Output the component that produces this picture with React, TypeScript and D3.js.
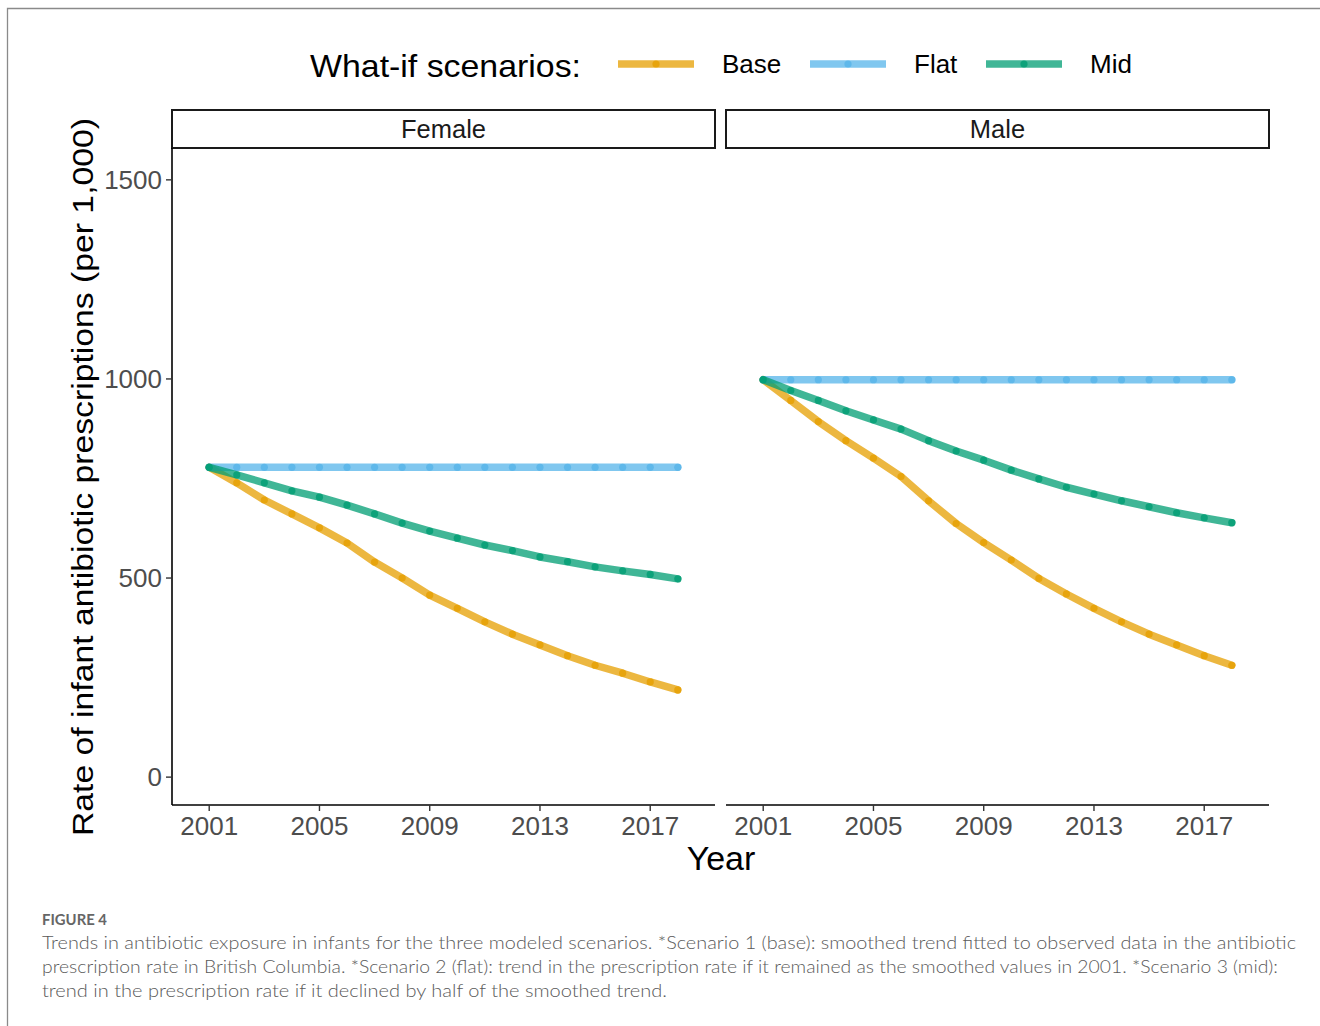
import React from "react";
import * as d3 from "d3";

// years shown on the x axis, 2001..2018
const years = [2001, 2002, 2003, 2004, 2005, 2006, 2007, 2008, 2009, 2010, 2011, 2012, 2013, 2014, 2015, 2016, 2017, 2018];
const xTicks = [2001, 2005, 2009, 2013, 2017];
const yTicks = [0, 500, 1000, 1500];

const scenarios = ["Base", "Flat", "Mid"];
const scenarioColors = ["#E69F00", "#56B4E9", "#009E73"];
const panels = ["Female", "Male"];

const femaleBase = [778, 739, 696, 661, 626, 588, 540, 500, 457, 424, 390, 359, 332, 305, 281, 261, 239, 219];
const femaleFlat = [778, 778, 778, 778, 778, 778, 778, 778, 778, 778, 778, 778, 778, 778, 778, 778, 778, 778];
const femaleMid = [778, 759, 739, 719, 703, 683, 661, 638, 618, 600, 583, 569, 553, 541, 528, 518, 509, 498];
const maleBase = [998, 946, 893, 845, 801, 755, 694, 637, 589, 545, 499, 460, 424, 390, 359, 332, 305, 281];
const maleFlat = [998, 998, 998, 998, 998, 998, 998, 998, 998, 998, 998, 998, 998, 998, 998, 998, 998, 998];
const maleMid = [998, 971, 946, 920, 897, 874, 845, 819, 796, 771, 749, 728, 711, 694, 679, 664, 651, 639];

const panelSeries = [
  [femaleBase, femaleFlat, femaleMid],
  [maleBase, maleFlat, maleMid],
];

const captionLines = [
  "Trends in antibiotic exposure in infants for the three modeled scenarios. *Scenario 1 (base): smoothed trend fitted to observed data in the antibiotic",
  "prescription rate in British Columbia. *Scenario 2 (flat): trend in the prescription rate if it remained as the smoothed values in 2001. *Scenario 3 (mid):",
  "trend in the prescription rate if it declined by half of the smoothed trend.",
];
const captionWidths = [1254, 1236, 625];

const W = 1320;
const H = 1026;
const panelLeft = [172, 726];
const panelW = 543;
const panelTop = 148;
const panelBottom = 805;
const stripTop = 110;
const font = "'Liberation Sans', Arial, Helvetica, sans-serif";
const capFont = "Lato, 'Open Sans', sans-serif";

const y = d3.scaleLinear().domain([-70, 1580]).range([panelBottom, panelTop]);

const Panel = ({ idx }: { idx: number }) => {
  const left = panelLeft[idx];
  const x = d3.scaleLinear().domain([1999.65, 2019.35]).range([left, left + panelW]);
  const line = d3
    .line<number>()
    .x((d, i) => x(years[i]))
    .y((d) => y(d));
  return (
    <g>
      <rect x={left} y={stripTop} width={panelW} height={panelTop - stripTop} fill="#fff" stroke="#1a1a1a" strokeWidth={2} />
      <text x={left + panelW / 2} y={(stripTop + panelTop) / 2 + 9} textAnchor="middle" fontSize={25.5} fill="#1a1a1a">
        {panels[idx]}
      </text>
      {panelSeries[idx].map((vals, s) => (
        <g key={s}>
          <path d={line(vals) || ""} fill="none" stroke={scenarioColors[s]} strokeWidth={7.5} strokeOpacity={0.75} strokeLinejoin="round" strokeLinecap="round" />
          {vals.map((v, i) => (
            <circle key={i} cx={x(years[i])} cy={y(v)} r={3.6} fill={scenarioColors[s]} fillOpacity={0.8} />
          ))}
        </g>
      ))}
      <line x1={left} x2={left + panelW} y1={panelBottom} y2={panelBottom} stroke="#000" strokeWidth={1.6} />
      {xTicks.map((t) => (
        <g key={t}>
          <line x1={x(t)} x2={x(t)} y1={panelBottom} y2={panelBottom + 6} stroke="#333" strokeWidth={1.4} />
          <text x={x(t)} y={panelBottom + 30} textAnchor="middle" fontSize={26} fill="#4d4d4d">
            {t}
          </text>
        </g>
      ))}
      {idx === 0 && (
        <g>
          <line x1={left} x2={left} y1={panelTop} y2={panelBottom} stroke="#000" strokeWidth={1.6} />
          {yTicks.map((t) => (
            <g key={t}>
              <line x1={left - 6} x2={left} y1={y(t)} y2={y(t)} stroke="#333" strokeWidth={1.4} />
              <text x={left - 10} y={y(t) + 9} textAnchor="end" fontSize={26} fill="#4d4d4d">
                {t}
              </text>
            </g>
          ))}
        </g>
      )}
    </g>
  );
};

const keyStarts = [618, 810, 986];

export default function App() {
  return (
    <svg width={W} height={H} style={{ position: "absolute", left: 0, top: 0, background: "#fff" }} fontFamily={font}>
      <rect x={0} y={0} width={W} height={H} fill="#fff" />
      <path d={`M7.5,${H} V8.5 H${W}`} fill="none" stroke="#8a8a8a" strokeWidth={1.3} />

      <text x={310} y={77} fontSize={32} fill="#000" textLength={271} lengthAdjust="spacingAndGlyphs">
        What-if scenarios:
      </text>
      {scenarios.map((s, i) => (
        <g key={s}>
          <line x1={keyStarts[i]} x2={keyStarts[i] + 76} y1={64} y2={64} stroke={scenarioColors[i]} strokeWidth={7.5} strokeOpacity={0.75} />
          <circle cx={keyStarts[i] + 38} cy={64} r={3.6} fill={scenarioColors[i]} fillOpacity={0.8} />
          <text x={keyStarts[i] + 104} y={73} fontSize={26} fill="#000">
            {s}
          </text>
        </g>
      ))}

      <Panel idx={0} />
      <Panel idx={1} />

      <text x={721} y={870} textAnchor="middle" fontSize={34} fill="#000">
        Year
      </text>
      <text
        transform={`translate(93,477) rotate(-90)`}
        textAnchor="middle"
        fontSize={30}
        fill="#000"
        textLength={718}
        lengthAdjust="spacingAndGlyphs"
      >
        Rate of infant antibiotic prescriptions (per 1,000)
      </text>

      <text x={42} y={925} fontSize={15} fill="#666" fontFamily={capFont} fontWeight={700} textLength={65} lengthAdjust="spacingAndGlyphs">
        FIGURE 4
      </text>
      {captionLines.map((l, i) => (
        <text
          key={i}
          x={42}
          y={949 + i * 24}
          fontSize={18}
          fill="#5a5a5a"
          fontFamily={capFont}
          fontWeight={300}
          textLength={captionWidths[i]}
          lengthAdjust="spacingAndGlyphs"
        >
          {l}
        </text>
      ))}
    </svg>
  );
}
